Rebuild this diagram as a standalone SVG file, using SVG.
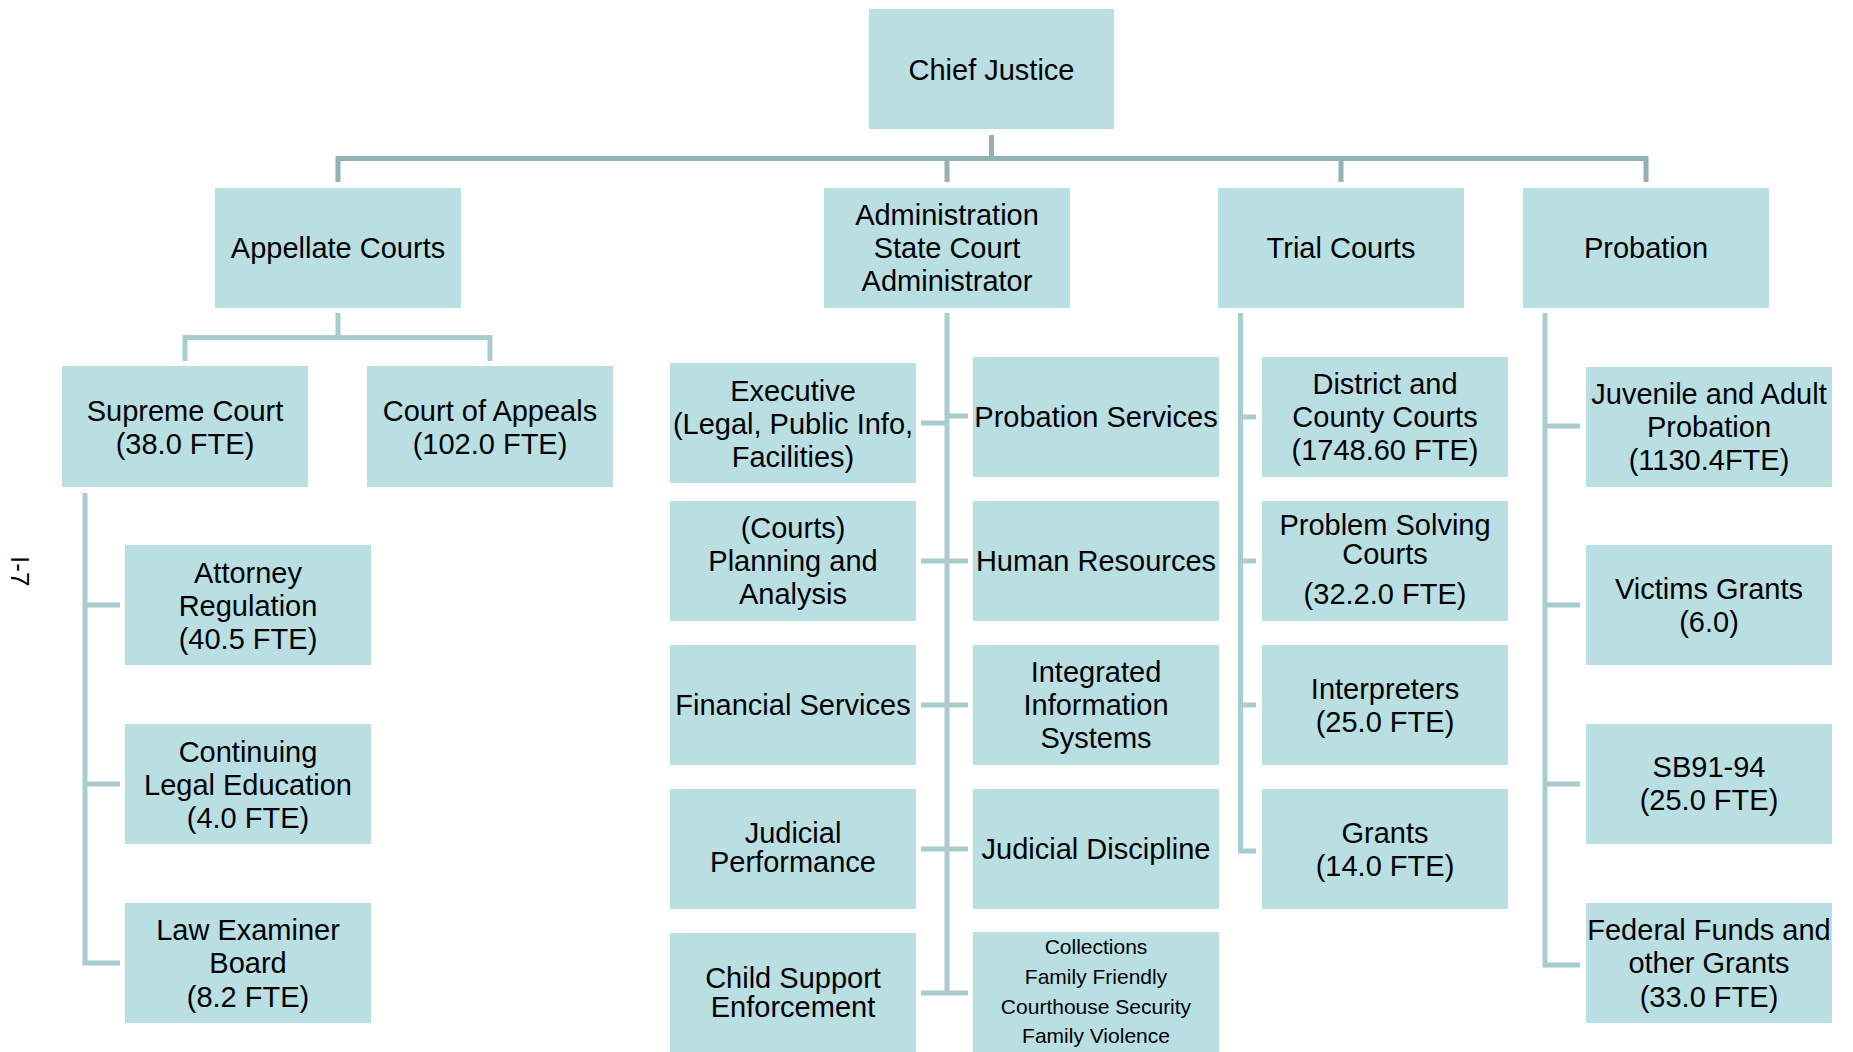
<svg xmlns="http://www.w3.org/2000/svg" width="1853" height="1052" viewBox="0 0 1853 1052">
<style>
.box{fill:#B9DFE2}
text{font-family:"Liberation Sans",Arial,sans-serif;font-size:29px;fill:#000;text-anchor:middle}
.sm{font-size:21px}
.top{fill:none;stroke:#93B0B3;stroke-width:5}
.ln{fill:none;stroke:#A8CCD0;stroke-width:5}
</style>
<rect width="1853" height="1052" fill="#fff"/>
<g id="connectors">
<path class="top" d="M991.5 135V158.5M338 182V158.5H1646V182M947 158.5V182M1341 158.5V182"/>
<path class="ln" d="M338 313V337.5M185 361V337.5H490V361"/>
<path class="ln" d="M85 493V963H120M85 605H120M85 784H120"/>
<path class="ln" d="M947 313V995M921 423H947M947 416H968M921 561H968M921 705H968M921 849H968M921 993H968"/>
<path class="ln" d="M1240.5 313V851H1256M1240.5 417H1256M1240.5 561H1256M1240.5 705H1256"/>
<path class="ln" d="M1545 313V965H1580M1545 426H1580M1545 605H1580M1545 784H1580"/>
</g>
<text transform="translate(11,556) rotate(90)" style="font-size:26px;text-anchor:start">I-7</text>
<g id="chief"><rect class="box" x="869" y="9" width="245" height="120"/><text x="991.5" y="80">Chief Justice</text></g>
<g id="appellate"><rect class="box" x="215" y="188" width="246" height="120"/><text x="338" y="258">Appellate Courts</text></g>
<g id="admin"><rect class="box" x="824" y="188" width="246" height="120"/><text x="947" y="225">Administration</text><text x="947" y="258">State Court</text><text x="947" y="291">Administrator</text></g>
<g id="trial"><rect class="box" x="1218" y="188" width="246" height="120"/><text x="1341" y="258">Trial Courts</text></g>
<g id="probation"><rect class="box" x="1523" y="188" width="246" height="120"/><text x="1646" y="258">Probation</text></g>
<g id="supreme"><rect class="box" x="62" y="366" width="246" height="121"/><text x="185" y="421">Supreme Court</text><text x="185" y="454">(38.0 FTE)</text></g>
<g id="appeals"><rect class="box" x="367" y="366" width="246" height="121"/><text x="490" y="421">Court of Appeals</text><text x="490" y="454">(102.0 FTE)</text></g>
<g id="attorney"><rect class="box" x="125" y="545" width="246" height="120"/><text x="248" y="583">Attorney</text><text x="248" y="616">Regulation</text><text x="248" y="649">(40.5 FTE)</text></g>
<g id="cle"><rect class="box" x="125" y="724" width="246" height="120"/><text x="248" y="762">Continuing</text><text x="248" y="795">Legal Education</text><text x="248" y="828">(4.0 FTE)</text></g>
<g id="lawexam"><rect class="box" x="125" y="903" width="246" height="120"/><text x="248" y="940">Law Examiner</text><text x="248" y="973">Board</text><text x="248" y="1007">(8.2 FTE)</text></g>
<g id="executive"><rect class="box" x="670" y="363" width="246" height="120"/><text x="793" y="401">Executive</text><text x="793" y="434">(Legal, Public Info,</text><text x="793" y="467">Facilities)</text></g>
<g id="planning"><rect class="box" x="670" y="501" width="246" height="120"/><text x="793" y="538">(Courts)</text><text x="793" y="571">Planning and</text><text x="793" y="604">Analysis</text></g>
<g id="financial"><rect class="box" x="670" y="645" width="246" height="120"/><text x="793" y="715">Financial Services</text></g>
<g id="judperf"><rect class="box" x="670" y="789" width="246" height="120"/><text x="793" y="843">Judicial</text><text x="793" y="872">Performance</text></g>
<g id="childsupport"><rect class="box" x="670" y="933" width="246" height="120"/><text x="793" y="988">Child Support</text><text x="793" y="1017">Enforcement</text></g>
<g id="probservices"><rect class="box" x="973" y="357" width="246" height="120"/><text x="1096" y="427">Probation Services</text></g>
<g id="hr"><rect class="box" x="973" y="501" width="246" height="120"/><text x="1096" y="571">Human Resources</text></g>
<g id="iis"><rect class="box" x="973" y="645" width="246" height="120"/><text x="1096" y="682">Integrated</text><text x="1096" y="715">Information</text><text x="1096" y="748">Systems</text></g>
<g id="discipline"><rect class="box" x="973" y="789" width="246" height="120"/><text x="1096" y="859">Judicial Discipline</text></g>
<g id="collections"><rect class="box" x="973" y="932" width="246" height="121"/><text class="sm" x="1096" y="954">Collections</text><text class="sm" x="1096" y="984">Family Friendly</text><text class="sm" x="1096" y="1014">Courthouse Security</text><text class="sm" x="1096" y="1043">Family Violence</text></g>
<g id="district"><rect class="box" x="1262" y="357" width="246" height="120"/><text x="1385" y="394">District and</text><text x="1385" y="427">County Courts</text><text x="1385" y="460">(1748.60 FTE)</text></g>
<g id="problemsolving"><rect class="box" x="1262" y="501" width="246" height="120"/><text x="1385" y="535">Problem Solving</text><text x="1385" y="564">Courts</text><text x="1385" y="604">(32.2.0 FTE)</text></g>
<g id="interpreters"><rect class="box" x="1262" y="645" width="246" height="120"/><text x="1385" y="699">Interpreters</text><text x="1385" y="732">(25.0 FTE)</text></g>
<g id="grants"><rect class="box" x="1262" y="789" width="246" height="120"/><text x="1385" y="843">Grants</text><text x="1385" y="876">(14.0 FTE)</text></g>
<g id="juvenile"><rect class="box" x="1586" y="367" width="246" height="120"/><text x="1709" y="404">Juvenile and Adult</text><text x="1709" y="437">Probation</text><text x="1709" y="470">(1130.4FTE)</text></g>
<g id="victims"><rect class="box" x="1586" y="545" width="246" height="120"/><text x="1709" y="599">Victims Grants</text><text x="1709" y="632">(6.0)</text></g>
<g id="sb9194"><rect class="box" x="1586" y="724" width="246" height="120"/><text x="1709" y="777">SB91-94</text><text x="1709" y="810">(25.0 FTE)</text></g>
<g id="federal"><rect class="box" x="1586" y="903" width="246" height="120"/><text x="1709" y="940">Federal Funds and</text><text x="1709" y="973">other Grants</text><text x="1709" y="1007">(33.0 FTE)</text></g>
</svg>
